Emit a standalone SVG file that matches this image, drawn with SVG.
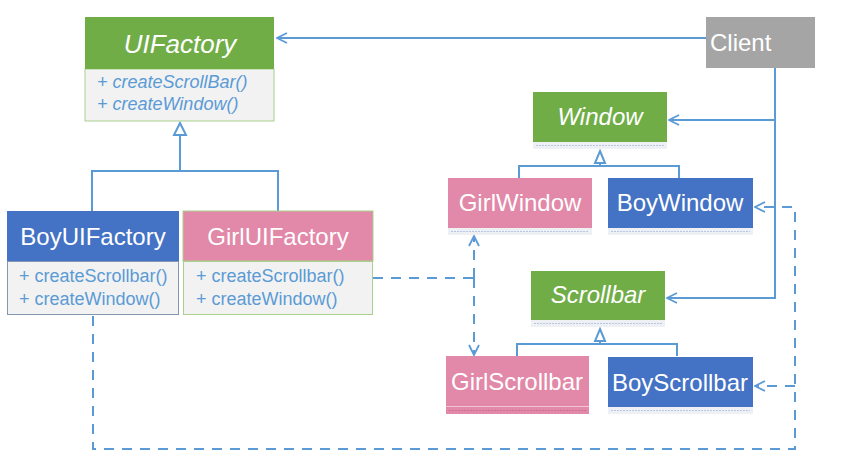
<svg xmlns="http://www.w3.org/2000/svg" width="847" height="462" viewBox="0 0 847 462">
<style>
.t{font-family:"Liberation Sans",Arial,sans-serif;fill:#fff;text-anchor:middle;font-size:24px}
.i{font-style:italic}
.m{font-family:"Liberation Sans",Arial,sans-serif;fill:#5b9bd5;font-size:18px}
.green{fill:#70ad47}
.blue{fill:#4472c4}
.pink{fill:#e288a8}
.band{fill:#eef0f3}
.bandline{stroke:#b4c7e7;stroke-width:1;stroke-dasharray:2 1}
.ln{stroke:#5b9bd5;stroke-width:2;fill:none}
.dash{stroke:#5b9bd5;stroke-width:2;fill:none;stroke-dasharray:10 8}
.tri{stroke:#5b9bd5;stroke-width:2;fill:#fff}
</style>
<defs>
<marker id="open" viewBox="0 0 12 12" refX="11" refY="6" markerWidth="12" markerHeight="12" markerUnits="userSpaceOnUse" orient="auto">
<path d="M1,1 L11,6 L1,11" fill="none" stroke="#5b9bd5" stroke-width="1.8"/>
</marker>
</defs>
<g id="connectors">
<path class="ln" d="M706,38 H277" marker-end="url(#open)"/>
<path class="ln" d="M775,68 V298 H667" marker-end="url(#open)"/>
<path class="ln" d="M775,120 H669" marker-end="url(#open)"/>
<path class="ln" d="M180,135 V171 M92,211 V171 H278 V211"/>
<path class="tri" d="M180,123 L186,135 H174 Z"/>
<path class="ln" d="M600,163 V166 M519,178 V166 H679 V178"/>
<path class="tri" d="M600,151 L605,163 H595 Z"/>
<path class="ln" d="M600,341 V344 M517,356 V344 H677 V356"/>
<path class="tri" d="M600,329 L605,341 H595 Z"/>
<path class="dash" d="M373,278 H474"/>
<path class="dash" d="M474,278 V236" marker-end="url(#open)"/>
<path class="dash" d="M474,278 V355" marker-end="url(#open)"/>
<path class="dash" d="M93,316 V449 H795 V207 H755" marker-end="url(#open)"/>
<path class="dash" d="M795,386 H755" marker-end="url(#open)"/>
</g>
<g id="UIFactory">
<rect x="85" y="69" width="189" height="52" fill="#f2f2f2" stroke="#a9d18e" stroke-width="1"/>
<rect x="85" y="17" width="189" height="52" class="green"/>
<text x="180" y="53" class="t i" font-size="26" style="font-size:26px">UIFactory</text>
<text x="97" y="88" class="m i">+ createScrollBar()</text>
<text x="97" y="110" class="m i">+ createWindow()</text>
</g>
<g id="BoyUIFactory">
<rect x="7.5" y="261.5" width="171" height="53" fill="#f2f2f2" stroke="#8497b0" stroke-width="1"/>
<rect x="7" y="211" width="172" height="50" class="blue"/>
<text x="93" y="245" class="t">BoyUIFactory</text>
<text x="19" y="282" class="m">+ createScrollbar()</text>
<text x="19" y="305" class="m">+ createWindow()</text>
</g>
<g id="GirlUIFactory">
<rect x="183.5" y="261.5" width="189" height="53" fill="#f2f2f2" stroke="#a9d18e" stroke-width="1"/>
<rect x="183" y="211" width="190" height="50" class="pink" stroke="#a9d18e" stroke-width="1"/>
<text x="278" y="245" class="t">GirlUIFactory</text>
<text x="196" y="282" class="m">+ createScrollbar()</text>
<text x="196" y="305" class="m">+ createWindow()</text>
</g>
<g id="Client">
<rect x="706" y="17" width="109" height="51" fill="#a5a5a5"/>
<text x="710" y="51" class="t" style="text-anchor:start">Client</text>
</g>
<g id="Window">
<rect x="533" y="142" width="134" height="7" class="band"/>
<line x1="536" y1="145.5" x2="664" y2="145.5" class="bandline"/>
<rect x="533" y="92" width="134" height="50" class="green"/>
<text x="600" y="125" class="t i">Window</text>
</g>
<g id="GirlWindow">
<rect x="448" y="228" width="144" height="7" class="band"/>
<line x1="451" y1="231.5" x2="589" y2="231.5" class="bandline"/>
<rect x="448" y="178" width="144" height="50" class="pink"/>
<text x="520" y="211" class="t">GirlWindow</text>
</g>
<g id="BoyWindow">
<rect x="608" y="228" width="145" height="7" class="band"/>
<line x1="611" y1="231.5" x2="750" y2="231.5" class="bandline"/>
<rect x="608" y="178" width="145" height="50" class="blue"/>
<text x="680" y="211" class="t">BoyWindow</text>
</g>
<g id="Scrollbar">
<rect x="531" y="320" width="134" height="7" class="band"/>
<line x1="534" y1="323.5" x2="662" y2="323.5" class="bandline"/>
<rect x="531" y="271" width="134" height="49" class="green"/>
<text x="598" y="303" class="t i">Scrollbar</text>
</g>
<g id="GirlScrollbar">
<rect x="446" y="407" width="143" height="7" class="pink"/>
<line x1="449" y1="410.5" x2="586" y2="410.5" stroke="#c9728f" stroke-width="1" stroke-dasharray="2 1"/>
<rect x="446" y="356" width="143" height="50" class="pink"/>
<line x1="446" y1="406.5" x2="589" y2="406.5" stroke="#f4c4d6" stroke-width="1"/>
<text x="517" y="390" class="t">GirlScrollbar</text>
</g>
<g id="BoyScrollbar">
<rect x="608" y="407" width="145" height="7" class="band"/>
<line x1="611" y1="410.5" x2="750" y2="410.5" class="bandline"/>
<rect x="608" y="357" width="145" height="50" class="blue"/>
<text x="680" y="391" class="t">BoyScrollbar</text>
</g>
</svg>
